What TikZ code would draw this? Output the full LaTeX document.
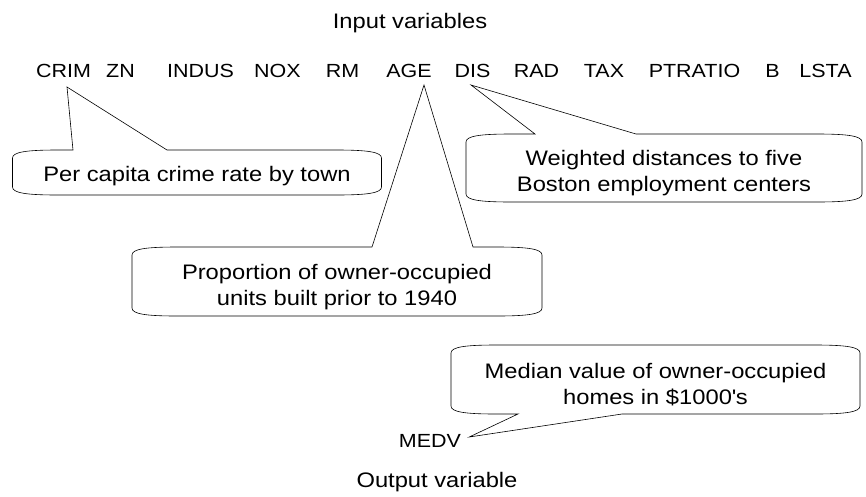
\documentclass[tikz,border=0pt]{standalone}
\usepackage{fontspec}
\setmainfont{Liberation Sans}[FakeStretch=1.13]
\usetikzlibrary{calc}

% speech bubble round a text node, wedge on top pointing up to #2
% #1 text node, #2 tip, #3 half width, #4 room above, #5 room below,
% #6 #7 wedge base (x offsets from the node centre)
\newcommand\bubbleup[7]{%
  \draw[bubble] (#2) -- ([shift={(#7,-#4)}]#1.center)
    -- ([shift={(#3-45,-#4)}]#1.center)
    .. controls ([shift={(#3-14,-#4)}]#1.center) and ([shift={(#3,-#4+2)}]#1.center) .. ([shift={(#3,-#4+8)}]#1.center)
    -- ([shift={(#3,#5-8)}]#1.center)
    .. controls ([shift={(#3,#5-2)}]#1.center) and ([shift={(#3-14,#5)}]#1.center) .. ([shift={(#3-45,#5)}]#1.center)
    -- ([shift={(-#3+45,#5)}]#1.center)
    .. controls ([shift={(-#3+14,#5)}]#1.center) and ([shift={(-#3,#5-2)}]#1.center) .. ([shift={(-#3,#5-8)}]#1.center)
    -- ([shift={(-#3,-#4+8)}]#1.center)
    .. controls ([shift={(-#3,-#4+2)}]#1.center) and ([shift={(-#3+14,-#4)}]#1.center) .. ([shift={(-#3+45,-#4)}]#1.center)
    -- ([shift={(#6,-#4)}]#1.center) -- cycle;
}
% same, wedge on the bottom
\newcommand\bubbledown[7]{%
  \draw[bubble] (#2) -- ([shift={(#6,#5)}]#1.center)
    -- ([shift={(-#3+45,#5)}]#1.center)
    .. controls ([shift={(-#3+14,#5)}]#1.center) and ([shift={(-#3,#5-2)}]#1.center) .. ([shift={(-#3,#5-8)}]#1.center)
    -- ([shift={(-#3,-#4+8)}]#1.center)
    .. controls ([shift={(-#3,-#4+2)}]#1.center) and ([shift={(-#3+14,-#4)}]#1.center) .. ([shift={(-#3+45,-#4)}]#1.center)
    -- ([shift={(#3-45,-#4)}]#1.center)
    .. controls ([shift={(#3-14,-#4)}]#1.center) and ([shift={(#3,-#4+2)}]#1.center) .. ([shift={(#3,-#4+8)}]#1.center)
    -- ([shift={(#3,#5-8)}]#1.center)
    .. controls ([shift={(#3,#5-2)}]#1.center) and ([shift={(#3-14,#5)}]#1.center) .. ([shift={(#3-45,#5)}]#1.center)
    -- ([shift={(#7,#5)}]#1.center) -- cycle;
}

\begin{document}
\begin{tikzpicture}[
x=1pt,y=-1pt,
var/.style={
  anchor=base,
  inner sep=0pt,
  font=\fontsize{19}{23}\selectfont
},
title/.style={
  anchor=base,
  inner sep=0pt,
  font=\fontsize{21}{25}\selectfont
},
note/.style={
  inner sep=0pt,
  align=center,
  font=\fontsize{21}{26}\selectfont
},
bubble/.style={
  draw,
  line width=0.6pt,
  line join=miter
}
]
\useasboundingbox (0,0) rectangle (866,496);

\node[title] (inputs) at (410,28) {Input variables};

% input variables
\foreach \x/\v in {63.5/CRIM,120.5/ZN,200.5/INDUS,277.5/NOX,342.5/RM,409/AGE,
  472.5/DIS,536.5/RAD,604/TAX,694.5/PTRATIO,772.5/B,825.5/LSTA}
  \node[var] (\v) at (\x,77) {\v};

\node[var] (MEDV) at (430,447) {MEDV};
\node[title] (output) at (437,487) {Output variable};

% wedge tips
\coordinate (crimtip) at ([shift={(3.5,10)}]CRIM.base);
\coordinate (distip) at ([shift={(-1.5,8)}]DIS.base);
\coordinate (agetip) at ([shift={(15,8)}]AGE.base);
\coordinate (medvtip) at ([shift={(8,-10)}]MEDV.base east);

% notes
\node[note] (crimnote) at (197,176.5) {Per capita crime rate by town};
\node[note] (disnote) at (664,173.5)
  {Weighted distances to five\\Boston employment centers};
\node[note] (agenote) at (337,286.7)
  {Proportion of owner-occupied\\units built prior to 1940};
\node[note] (medvnote) at (655.5,385)
  {Median value of owner-occupied\\homes in \$1000\textquotesingle s};

\bubbleup{crimnote}{crimtip}{184.5}{26.5}{18.5}{-124}{-30}
\bubbleup{disnote}{distip}{198}{39.5}{28.5}{-129}{-28}
\bubbleup{agenote}{agetip}{205}{39.7}{29.3}{35}{136}
\bubbledown{medvnote}{medvtip}{204.5}{40}{29}{-137.5}{-33.5}
\end{tikzpicture}
\end{document}
